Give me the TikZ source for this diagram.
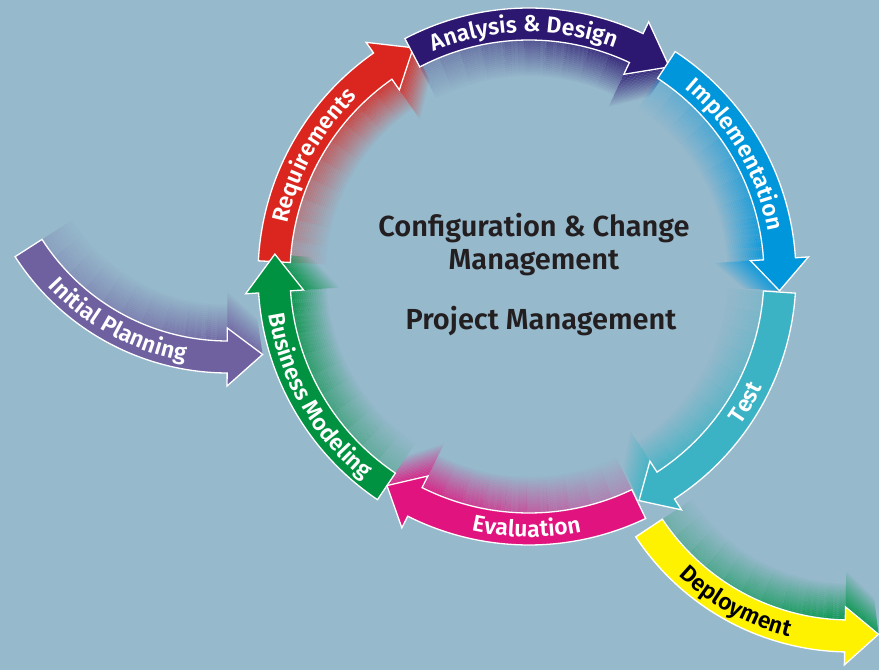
\documentclass[tikz,border=0pt]{standalone}
\usepackage{fontspec}
\setmainfont{Fira Sans}[BoldFont={Fira Sans SemiBold}]
\usepackage{tikz}
\usetikzlibrary{decorations.text}

\definecolor{bgblue}{RGB}{150,185,204}
\definecolor{reqred}{RGB}{218,38,30}
\definecolor{anaindigo}{RGB}{44,24,112}
\definecolor{impblue}{RGB}{0,150,220}
\definecolor{testteal}{RGB}{60,179,196}
\definecolor{evalpink}{RGB}{225,20,127}
\definecolor{busgreen}{RGB}{0,146,64}
\definecolor{initpurple}{RGB}{111,97,160}
\definecolor{depyellow}{RGB}{255,242,0}
\definecolor{depgreen}{RGB}{0,150,72}
\definecolor{txtdark}{RGB}{35,31,32}

\newcommand{\bandw}{16}
\newcommand{\headw}{29}
\newcommand{\lblfont}{\fontsize{23}{23}\selectfont\bfseries}

% bent arrow: centre, radius, tail angle, head angle, tip angle, colour
\newcommand{\bentarrow}[6]{%
  \draw[arrowline, fill=#6, shift={(#1)}]
    (#3:{#2+\bandw}) arc[start angle=#3, end angle=#4, radius={#2+\bandw}]
    -- (#4:{#2+\headw}) -- (#5:#2) -- (#4:{#2-\headw}) -- (#4:{#2-\bandw})
    arc[start angle=#4, end angle=#3, radius={#2-\bandw}] -- cycle;}

% faded side of a bent arrow, same arguments
\newcommand{\bentdepth}[6]{%
  \begin{scope}[shift={(#1)}]
  \foreach \k in {1,...,18}{
    \pgfmathsetmacro\dpth{2*(\k-1)}
    \pgfmathsetmacro\opa{0.85*(1-(\k-1)/18)}
    \foreach \j in {1,...,10}{
      \pgfmathsetmacro\angs{(#3)+((#4)-(#3))*(\j-1)/10}
      \pgfmathsetmacro\ange{(#3)+((#4)-(#3))*\j/10}
      \pgfmathsetmacro\opb{\opa*(0.2+0.08*\j)}
      \draw[#6, line width=2.05, opacity=\opb]
        (\angs:{#2-\bandw-\dpth-1}) arc[start angle=\angs, end angle=\ange, radius={#2-\bandw-\dpth-1}];
    }
    \fill[#6, opacity=\opa] (#4:{#2-\headw-\dpth}) -- (#5:{#2-\dpth})
      -- (#5:{#2-\dpth-2}) -- (#4:{#2-\headw-\dpth-2}) -- cycle;
  }
  \end{scope}}

% text on a bent arrow: centre, radius, from, to, colour, text
\newcommand{\bentlabel}[6]{%
  \path[shift={(#1)}, decorate, decoration={text along path, text align=center,
      text color=#5, text={|\lblfont|#6}}]
    (#3:#2) arc[start angle=#3, end angle=#4, radius=#2];}

\begin{document}
\begin{tikzpicture}[x=1pt, y=1pt,
    arrowline/.style={draw=white, line width=1.3pt, line join=miter},
    ctrtext/.style={text=txtdark, font=\fontsize{29}{33}\selectfont\bfseries, inner sep=0pt}]
  \fill[bgblue] (0,0) rectangle (879,670);
  \useasboundingbox (0,0) rectangle (879,670);
  \coordinate (ring) at (529,395);
  \coordinate (plan) at (228,550);
  \coordinate (depl) at (850,275);

  % depth first
  \bentdepth{ring}{255}{177}{125}{117}{reqred}
  \bentdepth{ring}{251}{117.7}{64.7}{56}{anaindigo}
  \bentdepth{ring}{251}{56.8}{3.7}{-3.6}{impblue}
  \bentdepth{ring}{251}{-3.9}{-57}{-64}{testteal}
  \bentdepth{ring}{254}{-64.4}{-116.7}{-124}{evalpink}
  \bentdepth{ring}{255}{-124}{-176.2}{-184.7}{busgreen}
  \bentdepth{plan}{237}{212.7}{269.8}{278.4}{initpurple}
  \bentdepth{depl}{241}{213.5}{268.8}{276.8}{depgreen}

  % the arrows
  \bentarrow{ring}{255}{177}{125}{117}{reqred}
  \bentarrow{ring}{251}{117.7}{64.7}{56}{anaindigo}
  \bentarrow{ring}{251}{56.8}{3.7}{-3.6}{impblue}
  \bentarrow{ring}{255}{-124}{-176.2}{-184.7}{busgreen}
  \bentarrow{ring}{254}{-64.4}{-116.7}{-124}{evalpink}
  \bentarrow{ring}{251}{-3.9}{-57}{-64}{testteal}
  \bentarrow{plan}{237}{212.7}{269.8}{278.4}{initpurple}
  \bentarrow{depl}{241}{213.5}{268.8}{276.8}{depyellow}

  % labels
  \bentlabel{ring}{247}{177}{125}{white}{Requirements}
  \bentlabel{ring}{243}{117.7}{64.7}{white}{Analysis {\&} Design}
  \bentlabel{ring}{243}{56.8}{3.7}{white}{Implementation}
  \bentlabel{ring}{259}{-57}{-3.9}{white}{Test}
  \bentlabel{ring}{262}{-116.7}{-64.4}{white}{Evaluation}
  \bentlabel{ring}{263}{-176.2}{-124}{white}{Business Modeling}
  \bentlabel{plan}{245}{212.7}{269.8}{white}{Initial Planning}
  \bentlabel{depl}{249}{213.5}{268.8}{black}{Deployment}

  \node[ctrtext, align=center, anchor=north] (ccm) at (534,457) {Configuration \& Change\\Management};
  \node[ctrtext, anchor=base] (pm) at (541,340) {Project Management};
\end{tikzpicture}
\end{document}
